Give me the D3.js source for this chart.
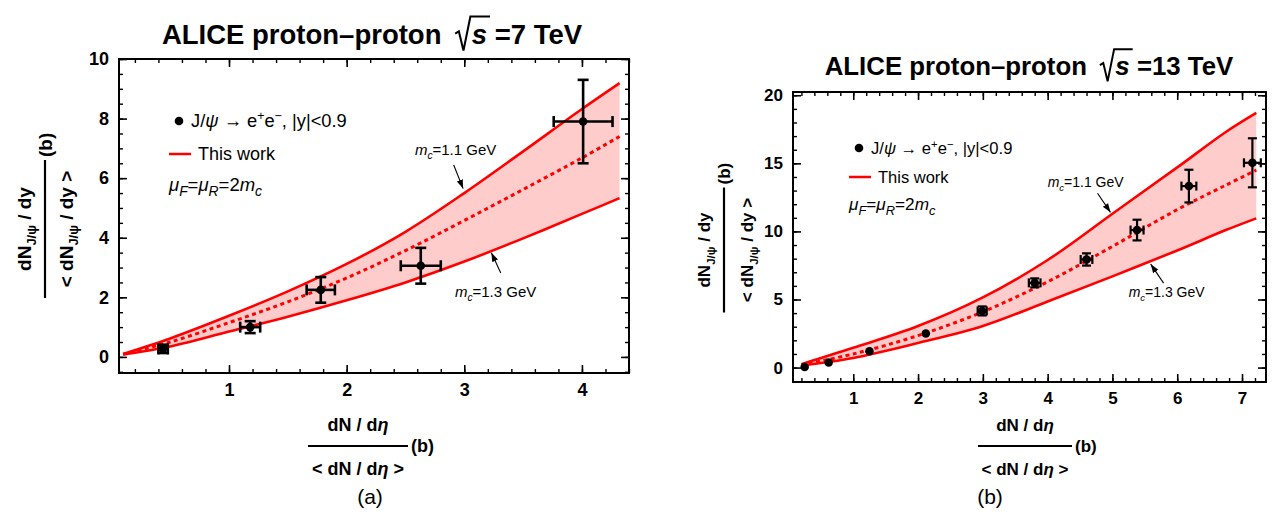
<!DOCTYPE html>
<html>
<head>
<meta charset="utf-8">
<script src="https://cdn.jsdelivr.net/npm/d3@7"></script>
<style>
body { margin: 0; background: #fff; }
text { font-family: "Liberation Sans", Arial, sans-serif; }
</style>
</head>
<body>
<script>
// ---- panel (a): sqrt(s) = 7 TeV ----
const dataXA = [0.44, 1.18, 1.78, 2.63, 4.01];
const dataYA = [0.27, 1.0, 2.25, 3.06, 7.9];
const errXA = [0.04, 0.085, 0.12, 0.17, 0.25];
const errYA = [0.14, 0.2, 0.43, 0.6, 1.4];

const curveXA = [0.1, 0.5, 1, 1.5, 2, 2.5, 3, 3.5, 4, 4.32];
const upperA = [0.1, 0.62, 1.38, 2.2, 3.12, 4.2, 5.5, 6.9, 8.32, 9.19];
const middleA = [0.09, 0.5, 1.15, 1.85, 2.65, 3.57, 4.58, 5.62, 6.68, 7.4];
const lowerA = [0.08, 0.35, 0.85, 1.35, 1.9, 2.5, 3.2, 3.98, 4.8, 5.33];

const xTicksA = [1, 2, 3, 4];
const yTicksA = [0, 2, 4, 6, 8, 10];

// ---- panel (b): sqrt(s) = 13 TeV ----
const dataXB = [0.25, 0.62, 1.25, 2.12, 2.99, 3.80, 4.60, 5.38, 6.18, 7.16];
const dataYB = [0.04, 0.37, 1.2, 2.5, 4.16, 6.22, 7.94, 10.1, 13.33, 15.04];
const errXB = [0, 0, 0, 0, 0.07, 0.09, 0.09, 0.1, 0.115, 0.13];
const errYB = [0, 0, 0, 0, 0.33, 0.33, 0.45, 0.76, 1.2, 1.8];

const curveXB = [0.2, 1, 2, 3, 4, 5, 6, 6.75, 7.22];
const upperB = [0.25, 1.45, 3.05, 5.15, 7.9, 11.3, 14.7, 17.3, 18.7];
const middleB = [0.2, 1.0, 2.35, 4.1, 6.3, 8.9, 11.6, 13.4, 14.5];
const lowerB = [0.15, 0.7, 1.8, 3.05, 4.85, 6.7, 8.6, 10.1, 10.96];

const xTicksB = [1, 2, 3, 4, 5, 6, 7];
const yTicksB = [0, 5, 10, 15, 20];

const RED = "#ff0000";
const BAND = "#ffcccc";

const svg = d3.select("body").append("svg").attr("width", 1276).attr("height", 521);

svg.append("defs").append("marker")
    .attr("id", "arrow")
    .attr("viewBox", "0 0 10 10")
    .attr("refX", 10).attr("refY", 5)
    .attr("markerWidth", 9).attr("markerHeight", 9)
    .attr("markerUnits", "userSpaceOnUse")
    .attr("orient", "auto")
    .append("path").attr("d", "M0,1.5 L10,5 L0,8.5 z").attr("fill", "#000");

// text with sub/superscripts and italics
function rich(sel, parts, size, ratio = 0.68) {
    let shift = 0;
    parts.forEach(p => {
        const s = p.sub ? size * 0.28 : p.sup ? -size * 0.38 : 0;
        const ts = sel.append("tspan").text(p.t).attr("dy", s - shift);
        if (p.sub || p.sup) ts.attr("font-size", size * ratio);
        if (p.it) ts.attr("font-style", "italic");
        shift = s;
    });
    return sel;
}

function title(cx, base, size, energy) {
    const g = svg.append("g").attr("font-weight", "bold").attr("font-size", size);
    const t1 = g.append("text").attr("y", base).text("ALICE proton\u2013proton");
    const t2 = g.append("text").attr("y", base).attr("font-style", "italic").text("s");
    const t3 = g.append("text").attr("y", base).text("=" + energy + " TeV");
    const w1 = t1.node().getComputedTextLength();
    const w2 = t2.node().getComputedTextLength();
    const w3 = t3.node().getComputedTextLength();
    const sp = size * 0.5, rw = size * 0.6, gap = size * 0.28;
    const total = w1 + sp + rw + w2 + gap + w3;
    const x0 = cx - total / 2;
    t1.attr("x", x0);
    const rx = x0 + w1 + sp;
    const sx = rx + rw;
    t2.attr("x", sx);
    t3.attr("x", sx + w2 + gap);
    const top = base - size * 1.0;
    g.append("path")
        .attr("d", `M${rx},${base - size * 0.38} L${rx + rw * 0.22},${base - size * 0.46} L${rx + rw * 0.5},${base + size * 0.24} L${rx + rw * 0.92},${top} L${sx + w2 + 3},${top}`)
        .attr("fill", "none").attr("stroke", "#000").attr("stroke-width", size * 0.075)
        .attr("stroke-linejoin", "miter");
}

const numY = [{ t: "dN" }, { t: "J/\u03c8", sub: true }, { t: " / dy" }];
const denY = [{ t: "< dN" }, { t: "J/\u03c8", sub: true }, { t: " / dy >" }];
const numX = [{ t: "dN / d" }, { t: "\u03b7", it: true }];
const denX = [{ t: "< dN / d" }, { t: "\u03b7", it: true }, { t: " >" }];

// stacked fraction label with "(b)" after the bar
function fraction(cx, cy, rot, len, size, numOff, denOff, num, den) {
    const g = svg.append("g").attr("transform", `translate(${cx},${cy}) rotate(${rot})`)
        .attr("font-weight", "bold").attr("font-size", size);
    rich(g.append("text").attr("text-anchor", "middle").attr("y", numOff), num, size);
    g.append("line").attr("x1", -len / 2).attr("x2", len / 2).attr("stroke", "#000").attr("stroke-width", 2.2);
    rich(g.append("text").attr("text-anchor", "middle").attr("y", denOff), den, size);
    g.append("text").attr("x", len / 2 + 3).attr("y", size * 0.36).text("(b)");
}

function drawPanel(p) {
    const x = d3.scaleLinear().domain(p.xDomain).range([p.left, p.right]);
    const y = d3.scaleLinear().domain(p.yDomain).range([p.bottom, p.top]);
    const g = svg.append("g");

    const pts = p.cx.map((v, i) => ({ x: v, lo: p.lo[i], mid: p.mid[i], up: p.up[i] }));
    const curve = d3.curveCatmullRom.alpha(0.5);
    const area = d3.area().x(d => x(d.x)).y0(d => y(d.lo)).y1(d => y(d.up)).curve(curve);
    g.append("path").datum(pts).attr("d", area).attr("fill", BAND);

    const line = key => d3.line().x(d => x(d.x)).y(d => y(d[key])).curve(curve);
    ["up", "lo"].forEach(k => {
        g.append("path").datum(pts).attr("d", line(k))
            .attr("fill", "none").attr("stroke", RED).attr("stroke-width", 2.6);
    });
    g.append("path").datum(pts).attr("d", line("mid"))
        .attr("fill", "none").attr("stroke", RED).attr("stroke-width", 3)
        .attr("stroke-dasharray", "4,3.5");

    // data points with error bars
    const data = p.px.map((v, i) => ({ x: v, y: p.py[i], ex: p.ex[i], ey: p.ey[i] }));
    const cap = p.cap;
    const eb = g.append("g").attr("stroke", "#000").attr("stroke-width", p.ebw);
    data.filter(d => d.ex > 0).forEach(d => {
        const x0 = x(d.x - d.ex), x1 = x(d.x + d.ex), yy = y(d.y);
        eb.append("line").attr("x1", x0).attr("x2", x1).attr("y1", yy).attr("y2", yy);
        eb.append("line").attr("x1", x0).attr("x2", x0).attr("y1", yy - cap).attr("y2", yy + cap);
        eb.append("line").attr("x1", x1).attr("x2", x1).attr("y1", yy - cap).attr("y2", yy + cap);
    });
    data.filter(d => d.ey > 0).forEach(d => {
        const y0 = y(d.y - d.ey), y1 = y(d.y + d.ey), xx = x(d.x);
        eb.append("line").attr("x1", xx).attr("x2", xx).attr("y1", y0).attr("y2", y1);
        eb.append("line").attr("x1", xx - cap).attr("x2", xx + cap).attr("y1", y0).attr("y2", y0);
        eb.append("line").attr("x1", xx - cap).attr("x2", xx + cap).attr("y1", y1).attr("y2", y1);
    });
    g.selectAll(".pt").data(data).enter().append("circle")
        .attr("cx", d => x(d.x)).attr("cy", d => y(d.y)).attr("r", p.r).attr("fill", "#000");

    // frame with inward ticks on all sides
    const minX = d3.range(Math.ceil(p.xDomain[0] / p.xMinor), Math.floor(p.xDomain[1] / p.xMinor) + 1).map(v => +(v * p.xMinor).toFixed(3));
    const minY = d3.range(Math.ceil(p.yDomain[0] / p.yMinor), Math.floor(p.yDomain[1] / p.yMinor) + 1).map(v => +(v * p.yMinor).toFixed(3));
    const axes = [
        [() => d3.axisBottom(x), `translate(0,${p.bottom})`, p.xTicks, minX, true],
        [() => d3.axisTop(x), `translate(0,${p.top})`, p.xTicks, minX, false],
        [() => d3.axisLeft(y), `translate(${p.left},0)`, p.yTicks, minY, true],
        [() => d3.axisRight(y), `translate(${p.right},0)`, p.yTicks, minY, false]
    ];
    axes.forEach(([mk, tr, major, minor, labels]) => {
        const gm = g.append("g").attr("transform", tr)
            .call(mk().tickValues(minor).tickSize(-4).tickSizeOuter(0).tickFormat(""));
        gm.select(".domain").remove();
        gm.selectAll("line").attr("stroke-width", 1.4);
        const ga = g.append("g").attr("transform", tr)
            .call(mk().tickValues(major).tickSize(-8).tickSizeOuter(0)
                .tickPadding(p.pad).tickFormat(labels ? d3.format("d") : ""));
        ga.select(".domain").remove();
        ga.selectAll("line").attr("stroke-width", 1.6);
        ga.selectAll("text").attr("font-family", "Liberation Sans, Arial, sans-serif")
            .attr("font-weight", "bold").attr("font-size", p.tickFont).attr("fill", "#000");
    });
    g.append("rect").attr("x", p.left).attr("y", p.top)
        .attr("width", p.right - p.left).attr("height", p.bottom - p.top)
        .attr("fill", "none").attr("stroke", "#000").attr("stroke-width", 2);

    // legend
    const L = p.legend;
    g.append("circle").attr("cx", L.x).attr("cy", L.y).attr("r", p.r).attr("fill", "#000");
    rich(g.append("text").attr("x", L.x + 12).attr("y", L.y + 6).attr("font-size", L.jsize),
        [{ t: "J/" }, { t: "\u03c8", it: true }, { t: " \u2192 e" }, { t: "+", sup: true }, { t: "e" }, { t: "\u2212", sup: true }, { t: ", |y|<0.9" }], L.jsize);
    g.append("line").attr("x1", L.x - 10).attr("x2", L.x + 12).attr("y1", L.y + L.dy).attr("y2", L.y + L.dy)
        .attr("stroke", RED).attr("stroke-width", 2.5);
    g.append("text").attr("x", L.x + 19).attr("y", L.y + L.dy + 6).attr("font-size", L.size + 1).text("This work");
    rich(g.append("text").attr("x", L.x - 10).attr("y", L.y + L.dy * 2 + 4).attr("font-size", L.msize),
        [{ t: "\u03bc", it: true }, { t: "F", it: true, sub: true }, { t: "=" }, { t: "\u03bc", it: true }, { t: "R", it: true, sub: true }, { t: "=2" }, { t: "m", it: true }, { t: "c", it: true, sub: true }], L.msize, 0.75);

    // mass annotations with arrows
    p.notes.forEach(n => {
        rich(g.append("text").attr("x", x(n.tx)).attr("y", y(n.ty) + 5).attr("font-size", p.noteFont),
            [{ t: "m", it: true }, { t: "c", it: true, sub: true }, { t: "=" + n.mass + " GeV" }], p.noteFont);
        g.append("line").attr("x1", x(n.ax0)).attr("y1", y(n.ay0)).attr("x2", x(n.ax1)).attr("y2", y(n.ay1))
            .attr("stroke", "#000").attr("stroke-width", 1.1).attr("marker-end", "url(#arrow)");
    });
}

drawPanel({
    left: 119, right: 629, top: 59, bottom: 373,
    xDomain: [0.065, 4.4], yDomain: [-0.54, 10],
    xTicks: xTicksA, yTicks: yTicksA, xMinor: 0.2, yMinor: 0.5,
    cx: curveXA, up: upperA, mid: middleA, lo: lowerA,
    px: dataXA, py: dataYA, ex: errXA, ey: errYA,
    r: 4.3, cap: 5.5, ebw: 2.6, pad: 10, tickFont: 18,
    legend: { x: 179, y: 121, dy: 33, size: 17, jsize: 18.3, msize: 18.5 },
    noteFont: 15,
    notes: [
        { mass: "1.1", tx: 2.58, ty: 6.95, ax0: 2.91, ay0: 6.44, ax1: 2.99, ay1: 5.65 },
        { mass: "1.3", tx: 2.92, ty: 2.19, ax0: 3.31, ay0: 2.82, ax1: 3.23, ay1: 3.5 }
    ]
});

drawPanel({
    left: 793, right: 1266, top: 92, bottom: 382,
    xDomain: [0.07, 7.37], yDomain: [-1.06, 20.24],
    xTicks: xTicksB, yTicks: yTicksB, xMinor: 0.2, yMinor: 1,
    cx: curveXB, up: upperB, mid: middleB, lo: lowerB,
    px: dataXB, py: dataYB, ex: errXB, ey: errYB,
    r: 4.3, cap: 4.5, ebw: 2.2, pad: 10, tickFont: 17,
    legend: { x: 859, y: 148, dy: 29, size: 15.5, jsize: 16.6, msize: 17.2 },
    noteFont: 14,
    notes: [
        { mass: "1.1", tx: 4.0, ty: 13.65, ax0: 4.77, ay0: 12.8, ax1: 4.97, ay1: 11.4 },
        { mass: "1.3", tx: 5.25, ty: 5.56, ax0: 5.79, ay0: 6.2, ax1: 5.59, ay1: 7.6 }
    ]
});

title(372, 44, 27.5, "7");
title(1029, 75, 25.8, "13");

fraction(45, 229, -90, 138, 19, -14, 28, numY, denY);
fraction(724, 250, -90, 125, 17, -14, 29, numY, denY);
fraction(358, 446, 0, 100, 18, -15, 29, numX, denX);
fraction(1025, 446, 0, 94, 17, -15, 29, numX, denX);

svg.append("text").attr("x", 370).attr("y", 504).attr("text-anchor", "middle")
    .attr("font-family", "Liberation Serif, serif").attr("font-size", 21).text("(a)");
svg.append("text").attr("x", 990).attr("y", 504).attr("text-anchor", "middle")
    .attr("font-family", "Liberation Serif, serif").attr("font-size", 21).text("(b)");
</script>
</body>
</html>
